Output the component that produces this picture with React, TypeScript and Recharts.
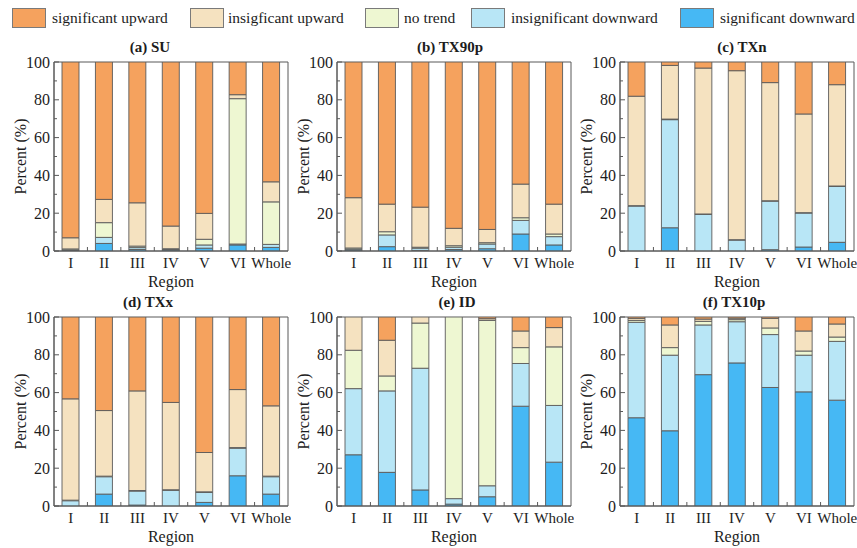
import React from 'react';
import { BarChart, Bar, XAxis, YAxis, ReferenceArea, Label } from 'recharts';

// Categories and axis ticks
const regions = ['I', 'II', 'III', 'IV', 'V', 'VI', 'Whole'];
const yTicks = [0, 10, 20, 30, 40, 50, 60, 70, 80, 90, 100];

// (a) SU — percent of stations per trend class
const suSigDown = [0.3, 4.0, 0.8, 0.5, 1.5, 3.2, 1.9];
const suInsigDown = [0.3, 3.2, 1.0, 0.3, 1.7, 0.5, 1.6];
const suNoTrend = [0.5, 7.8, 0.8, 0.4, 3.0, 76.9, 22.5];
const suInsigUp = [5.9, 12.3, 22.9, 12.0, 13.7, 2.1, 10.6];
const suSigUp = [93.0, 72.7, 74.5, 86.8, 80.1, 17.3, 63.4];

// (b) TX90p
const tx90SigDown = [0.5, 2.3, 0.3, 0.8, 1.2, 9.0, 3.2];
const tx90InsigDown = [0.5, 6.2, 1.2, 1.2, 2.5, 7.2, 4.4];
const tx90NoTrend = [0.6, 1.7, 0.5, 0.8, 0.7, 1.4, 1.4];
const tx90InsigUp = [26.6, 14.6, 21.2, 9.2, 7.0, 17.8, 15.8];
const tx90SigUp = [71.8, 75.2, 76.8, 88.0, 88.6, 64.6, 75.2];

// (c) TXn
const txnSigDown = [0, 12.3, 0, 0, 0.7, 2.1, 4.6];
const txnInsigDown = [23.8, 57.2, 19.4, 5.8, 25.7, 18.0, 29.6];
const txnNoTrend = [0.2, 0.3, 0.2, 0.2, 0.2, 0.2, 0.2];
const txnInsigUp = [57.9, 28.4, 77.2, 89.4, 62.5, 52.2, 53.6];
const txnSigUp = [18.1, 1.8, 3.2, 4.6, 10.9, 27.5, 12.0];

// (d) TXx
const txxSigDown = [0, 6.3, 0.5, 0, 1.9, 16.0, 6.3];
const txxInsigDown = [2.8, 9.2, 7.4, 8.3, 5.3, 14.6, 9.2];
const txxNoTrend = [0.3, 0.3, 0.3, 0.3, 0.3, 0.3, 0.3];
const txxInsigUp = [53.6, 34.7, 52.7, 46.2, 20.8, 30.7, 37.2];
const txxSigUp = [43.3, 49.5, 39.1, 45.2, 71.7, 38.4, 47.0];

// (e) ID
const idSigDown = [27.1, 17.8, 8.5, 1.0, 4.9, 52.8, 23.2];
const idInsigDown = [35.0, 43.1, 64.4, 2.9, 5.8, 22.6, 30.0];
const idNoTrend = [20.3, 7.9, 23.9, 96.1, 87.5, 8.4, 31.0];
const idInsigUp = [17.6, 18.9, 3.2, 0, 0.9, 8.8, 10.2];
const idSigUp = [0, 12.3, 0, 0, 0.9, 7.4, 5.6];

// (f) TX10p
const tx10SigDown = [46.7, 39.8, 69.5, 75.7, 62.7, 60.4, 56.0];
const tx10InsigDown = [50.5, 40.0, 26.3, 21.8, 28.0, 19.4, 31.1];
const tx10NoTrend = [1.0, 4.0, 1.9, 1.1, 3.5, 2.2, 2.3];
const tx10InsigUp = [1.1, 12.0, 1.2, 0.8, 5.1, 10.6, 6.9];
const tx10SigUp = [0.7, 4.2, 1.1, 0.6, 0.7, 7.4, 3.7];

// Trend classes, stacked from the bottom up
const seriesKeys = ['sigDown', 'insigDown', 'noTrend', 'insigUp', 'sigUp'];
const seriesColors: Record<string, string> = {
  sigUp: '#F5A25E',
  insigUp: '#F5E2C0',
  noTrend: '#EEF7D2',
  insigDown: '#B8E6F6',
  sigDown: '#46B8F4',
};
const legendItems = [
  { key: 'sigUp', label: 'significant upward', x: 12, tx: 52 },
  { key: 'insigUp', label: 'insigficant upward', x: 190, tx: 228 },
  { key: 'noTrend', label: 'no trend', x: 365, tx: 404 },
  { key: 'insigDown', label: 'insignificant downward', x: 471, tx: 511 },
  { key: 'sigDown', label: 'significant downward', x: 680, tx: 720 },
];

const FONT = "'Liberation Serif', 'Times New Roman', serif";
const INK = '#1c1c1c';
const FRAME = '#595959';

const CHART_W = 291;
const CHART_H = 251;
const Y_AXIS_W = 54;
const MARGIN = { top: 22, right: 3, bottom: 0, left: 0 };
const PLOT_W = CHART_W - Y_AXIS_W - MARGIN.right;
const STEP = PLOT_W / regions.length;

const panels = [
  { title: '(a) SU', series: [suSigDown, suInsigDown, suNoTrend, suInsigUp, suSigUp], left: 0, top: 40, titleX: 150 },
  { title: '(b) TX90p', series: [tx90SigDown, tx90InsigDown, tx90NoTrend, tx90InsigUp, tx90SigUp], left: 283, top: 40, titleX: 450 },
  { title: '(c) TXn', series: [txnSigDown, txnInsigDown, txnNoTrend, txnInsigUp, txnSigUp], left: 566, top: 40, titleX: 742 },
  { title: '(d) TXx', series: [txxSigDown, txxInsigDown, txxNoTrend, txxInsigUp, txxSigUp], left: 0, top: 295, titleX: 148 },
  { title: '(e) ID', series: [idSigDown, idInsigDown, idNoTrend, idInsigUp, idSigUp], left: 283, top: 295, titleX: 457 },
  { title: '(f) TX10p', series: [tx10SigDown, tx10InsigDown, tx10NoTrend, tx10InsigUp, tx10SigUp], left: 566, top: 295, titleX: 734 },
];

const YTick = (props: any) => {
  const { x, y, payload } = props;
  const major = payload.value % 20 === 0;
  const axisX = x + 4;
  return (
    <g>
      <line x1={axisX} x2={axisX + (major ? 5 : 3)} y1={y} y2={y} stroke={FRAME} strokeWidth={1} />
      {major && (
        <text x={x} y={y} dy="0.35em" textAnchor="end" fontFamily={FONT} fontSize={16} fill={INK}>
          {payload.value}
        </text>
      )}
    </g>
  );
};

const XTick = (props: any) => {
  const { x, y, payload, index } = props;
  const axisY = y - 6;
  const bx = x - STEP / 2;
  return (
    <g>
      {index > 0 && <line x1={bx} x2={bx} y1={axisY} y2={axisY - 4} stroke={FRAME} strokeWidth={1} />}
      <text x={x} y={y} dy="0.71em" textAnchor="middle" fontFamily={FONT} fontSize={15} fill={INK}>
        {payload.value}
      </text>
    </g>
  );
};

const RegionLabel = (props: any) => {
  const { x, y, width, height } = props.viewBox;
  return (
    <text x={x + width / 2} y={y + height - 4} textAnchor="middle" fontFamily={FONT} fontSize={16} fill={INK}>
      Region
    </text>
  );
};

const PercentLabel = (props: any) => {
  const { x, y, height } = props.viewBox;
  const cx = x + 20;
  const cy = y + height / 2;
  return (
    <text
      x={cx}
      y={cy}
      dy="0.35em"
      transform={`rotate(-90, ${cx}, ${cy})`}
      textAnchor="middle"
      fontFamily={FONT}
      fontSize={16}
      fill={INK}
    >
      Percent (%)
    </text>
  );
};

function Panel({ title, series, left, top, titleX }: any) {
  const data = regions.map((region, i) => {
    const row: Record<string, any> = { region };
    seriesKeys.forEach((k, s) => {
      row[k] = series[s][i];
    });
    return row;
  });
  return (
    <>
      <div
        style={{
          position: 'absolute',
          left: titleX - 60,
          width: 120,
          top: top - 1,
          textAlign: 'center',
          fontFamily: FONT,
          fontWeight: 'bold',
          fontSize: 15,
          lineHeight: '16px',
          color: INK,
        }}
      >
        {title}
      </div>
      <div style={{ position: 'absolute', left, top, width: CHART_W, height: CHART_H }}>
        <BarChart width={CHART_W} height={CHART_H} data={data} margin={MARGIN} barSize={17}>
          <XAxis
            dataKey="region"
            height={40}
            interval={0}
            tickSize={0}
            tickMargin={6}
            axisLine={{ stroke: FRAME }}
            tickLine={false}
            tick={<XTick />}
          >
            <Label content={<RegionLabel />} />
          </XAxis>
          <YAxis
            width={Y_AXIS_W}
            domain={[0, 100]}
            ticks={yTicks}
            interval={0}
            allowDataOverflow
            tickSize={0}
            tickMargin={4}
            axisLine={{ stroke: FRAME }}
            tickLine={false}
            tick={<YTick />}
          >
            <Label content={<PercentLabel />} />
          </YAxis>
          {seriesKeys.map((k) => (
            <Bar
              key={k}
              dataKey={k}
              stackId="trend"
              fill={seriesColors[k]}
              stroke="#5a5a5a"
              strokeWidth={0.9}
              isAnimationActive={false}
            />
          ))}
          <ReferenceArea y1={0} y2={100} fill="none" stroke={FRAME} strokeWidth={1} fillOpacity={0} ifOverflow="visible" />
        </BarChart>
      </div>
    </>
  );
}

export default function App() {
  return (
    <div style={{ position: 'absolute', left: 0, top: 0, width: 857, height: 548, background: '#fff', overflow: 'hidden' }}>
      {legendItems.map((it) => (
        <React.Fragment key={it.key}>
          <div
            style={{
              position: 'absolute',
              left: it.x,
              top: 8,
              width: 34,
              height: 20,
              boxSizing: 'border-box',
              background: seriesColors[it.key],
              border: '1px solid #7a7a7a',
            }}
          />
          <div
            style={{
              position: 'absolute',
              left: it.tx,
              top: 8,
              lineHeight: '20px',
              fontFamily: FONT,
              fontSize: 15.5,
              color: INK,
              whiteSpace: 'nowrap',
            }}
          >
            {it.label}
          </div>
        </React.Fragment>
      ))}
      {panels.map((p) => (
        <Panel key={p.title} {...p} />
      ))}
    </div>
  );
}
